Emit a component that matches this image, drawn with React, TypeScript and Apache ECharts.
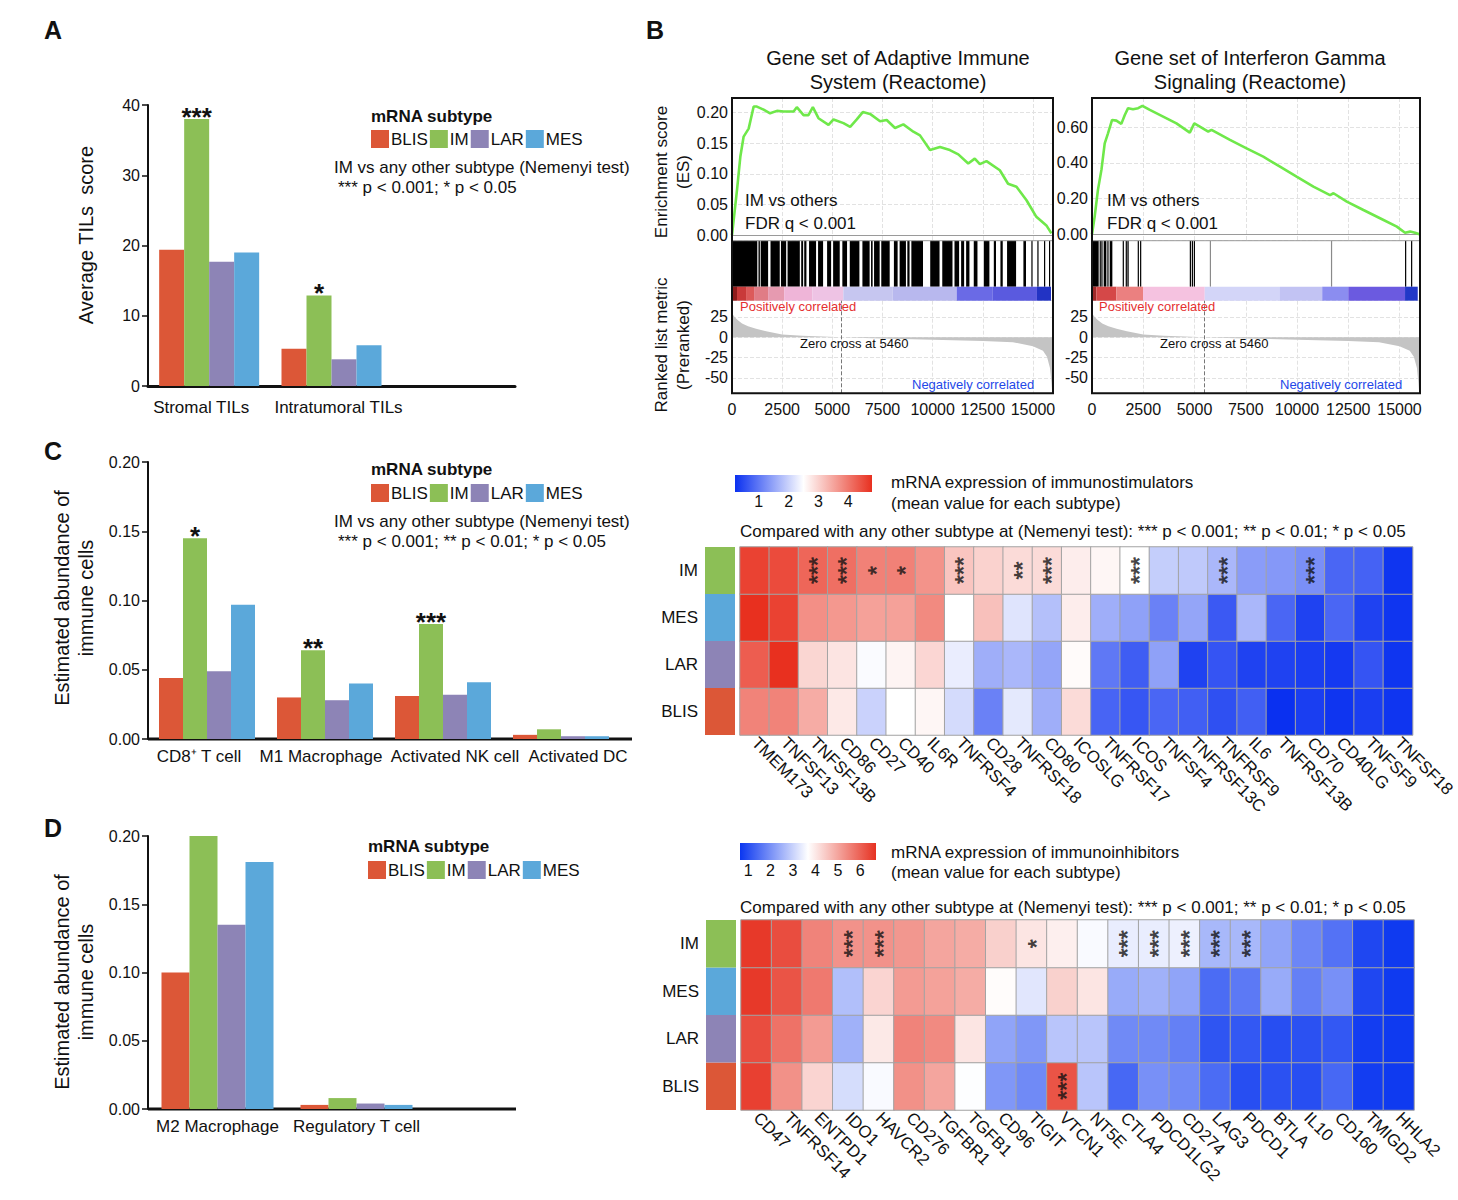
import React, { useEffect, useRef } from 'react';
import * as echarts from 'echarts';

const FONT = '"Liberation Sans", Arial, Helvetica, sans-serif';
const INK = '#111111';

const SUBTYPES = ['BLIS', 'IM', 'LAR', 'MES'];
const SUBTYPE_COLORS = ['#dc5737', '#8cbf56', '#8d84b6', '#5ba8da'];

// ---------- Panel A : TILs ----------
const tilCategories = ['Stromal TILs', 'Intratumoral TILs', ''];
const tilBLIS = [19.4, 5.3];
const tilIM = [38.0, 12.9];
const tilLAR = [17.7, 3.8];
const tilMES = [19.0, 5.8];
const tilStars = ['***', '*'];

// ---------- Panel C : immune cells ----------
const cellCatsC = ['CD8\u207A T cell', 'M1 Macrophage', 'Activated NK cell', 'Activated DC'];
const cBLIS = [0.044, 0.030, 0.031, 0.003];
const cIM = [0.145, 0.064, 0.083, 0.007];
const cLAR = [0.049, 0.028, 0.032, 0.002];
const cMES = [0.097, 0.040, 0.041, 0.002];
const cStars = ['*', '**', '***', ''];

// ---------- Panel D : immune cells ----------
const cellCatsD = ['M2 Macrophage', 'Regulatory T cell', ''];
const dBLIS = [0.100, 0.003];
const dIM = [0.208, 0.008];
const dLAR = [0.135, 0.004];
const dMES = [0.181, 0.003];
const dStars = ['', ''];

// ---------- Panel B : GSEA ----------
const esLeftRank = [0, 250, 415, 580, 830, 1080, 1240, 1575, 1900, 2240, 2570, 3070, 3230, 3565, 3810, 4030, 4310, 4810, 5060, 5555, 5890, 6220, 6520, 6880, 7380, 7710, 8125, 8540, 9040, 9370, 9870, 10365, 10860, 11280, 11775, 12100, 12355, 12685, 13350, 13760, 14180, 14680, 15170, 15670, 15920];
const esLeftValue = [0, 0.074, 0.128, 0.161, 0.174, 0.21, 0.21, 0.205, 0.199, 0.203, 0.202, 0.202, 0.209, 0.196, 0.196, 0.209, 0.191, 0.18, 0.189, 0.183, 0.177, 0.189, 0.201, 0.198, 0.186, 0.188, 0.175, 0.181, 0.169, 0.163, 0.139, 0.144, 0.139, 0.132, 0.117, 0.125, 0.116, 0.121, 0.106, 0.084, 0.079, 0.057, 0.030, 0.016, 0.003];
const esRightRank = [0, 130, 290, 460, 620, 780, 980, 1190, 1430, 1600, 1760, 2000, 2250, 2460, 2820, 3470, 4120, 4770, 4990, 5260, 5670, 5830, 6730, 7540, 8355, 9170, 9980, 10800, 11610, 11780, 12430, 13240, 14050, 14870, 15270, 15520, 15760, 15970];
const esRightValue = [0, 0.099, 0.249, 0.361, 0.51, 0.566, 0.641, 0.637, 0.619, 0.669, 0.707, 0.701, 0.707, 0.72, 0.697, 0.66, 0.622, 0.57, 0.622, 0.604, 0.576, 0.585, 0.529, 0.482, 0.435, 0.379, 0.323, 0.267, 0.22, 0.23, 0.183, 0.136, 0.09, 0.043, 0.009, 0.015, 0.009, 0];

const rankedRank = [0, 100, 250, 500, 800, 1200, 1700, 2500, 3500, 4500, 5460, 7000, 10000, 12500, 14000, 15000, 15500, 15700, 15850, 15920, 15960, 16000];
const rankedValue = [30, 26, 22, 17, 13.5, 10.5, 7.5, 3.5, 2, 1, 0, -1.2, -3, -4.5, -6, -11, -16.5, -24, -38, -55, -69, -69];
const zeroCross = 5460;

const leftHits = [[0, 1260], [1320, 1390], [1430, 1800], [1920, 2380], [2440, 2700], [2770, 3380], [3450, 3545], [3600, 3710], [3840, 4190], [4290, 4540], [4740, 4940], [5040, 5370], [5500, 5735], [5870, 6350], [6500, 6860], [6930, 7010], [7080, 7360], [7440, 7860], [8070, 8255], [8355, 8670], [8740, 8850], [8940, 9520], [9880, 10345], [10480, 10990], [11090, 11320], [11420, 11570], [11670, 11835], [12050, 12235], [12550, 12830], [13050, 13160], [13380, 13495], [13710, 14160], [14525, 14655], [14922, 14960], [15220, 15275], [15552, 15590], [15800, 15855]];
const rightHits = [[0, 326], [374, 407], [456, 505], [570, 700], [749, 798], [863, 993], [1498, 1530], [1644, 1693], [1726, 1790], [2230, 2263], [2344, 2377], [4770, 4803], [4868, 4900], [4965, 4998], [15270, 15303], [15563, 15596]];
const rightFaintHits = [[5747, 5763], [11656, 11673]];

const leftBandEdges = [0, 250, 700, 1100, 1800, 2600, 4000, 5550, 8000, 11200, 13000, 15200, 15900];
const leftBandColors = ['#8e1b1b', '#c93a3a', '#dc5a5a', '#e07c86', '#e69ab0', '#efb5d8', '#eec3e4', '#c6c6f0', '#b8b8ee', '#6a6ae6', '#5a5adf', '#2233c4'];
const rightBandEdges = [0, 210, 1190, 2490, 5500, 9170, 11230, 12500, 15270, 15890];
const rightBandColors = ['#a02828', '#d54848', '#eb8080', '#f5c2e0', '#d3d5f8', '#c2c3f3', '#8b8df0', '#6b5ae0', '#2238c8'];

// ---------- Heatmaps ----------
const HEAT_ROWS = ['BLIS', 'LAR', 'MES', 'IM'];

const stimGenes = ['TMEM173', 'TNFSF13', 'TNFSF13B', 'CD86', 'CD27', 'CD40', 'IL6R', 'TNFRSF4', 'CD28', 'TNFRSF18', 'CD80', 'ICOSLG', 'TNFRSF17', 'ICOS', 'TNFSF4', 'TNFRSF13C', 'TNFRSF9', 'IL6', 'TNFRSF13B', 'CD70', 'CD40LG', 'TNFSF9', 'TNFSF18'];
const stimIM = [4.6, 4.5, 4.2, 4.1, 3.9, 3.9, 3.7, 3.15, 3.0, 2.9, 2.9, 2.7, 2.6, 2.5, 1.95, 1.9, 1.7, 1.4, 1.35, 1.25, 0.8, 0.75, 0.25];
const stimMES = [4.8, 4.6, 3.74, 3.65, 3.55, 3.55, 3.8, 2.5, 3.2, 2.2, 1.8, 2.7, 1.6, 1.45, 1.1, 1.5, 0.66, 1.7, 0.8, 0.4, 0.8, 0.4, 0.25];
const stimLAR = [4.3, 4.8, 2.96, 2.8, 2.45, 2.62, 2.95, 2.3, 1.6, 1.7, 1.5, 2.55, 1.0, 0.7, 1.45, 0.4, 0.6, 0.4, 0.4, 0.35, 0.3, 0.6, 0.25];
const stimBLIS = [3.88, 3.88, 3.42, 2.75, 2.0, 2.5, 2.6, 2.1, 1.1, 2.25, 1.6, 2.9, 0.78, 0.62, 0.8, 0.72, 0.55, 0.72, 0.2, 0.35, 0.25, 0.35, 0.25];
const stimStarsIM = ['', '', '***', '***', '*', '*', '', '***', '', '**', '***', '', '', '***', '', '', '***', '', '', '***', '', '', ''];
const stimScaleMin = 0.2;
const stimScaleMax = 4.8;
const stimLegendTicks = [1, 2, 3, 4];

const inhGenes = ['CD47', 'TNFRSF14', 'ENTPD1', 'IDO1', 'HAVCR2', 'CD276', 'TGFBR1', 'TGFB1', 'CD96', 'TIGIT', 'VTCN1', 'NT5E', 'CTLA4', 'PDCD1LG2', 'CD274', 'LAG3', 'PDCD1', 'BTLA', 'IL10', 'CD160', 'TMIGD2', 'HHLA2'];
const inhIM = [6.6, 6.3, 5.5, 5.28, 5.28, 5.2, 5.0, 4.9, 4.37, 4.05, 3.9, 3.6, 3.4, 3.4, 3.45, 2.6, 2.6, 2.3, 1.85, 1.55, 0.9, 0.7];
const inhMES = [6.6, 6.2, 5.65, 2.7, 4.3, 5.15, 5.05, 4.9, 3.72, 3.3, 4.35, 4.05, 2.4, 2.5, 2.3, 1.45, 1.65, 2.4, 1.75, 2.0, 0.9, 0.7];
const inhLAR = [6.3, 5.75, 5.15, 2.5, 4.0, 5.5, 5.4, 4.05, 2.3, 2.1, 2.8, 2.8, 1.9, 1.9, 1.75, 1.1, 1.15, 1.0, 1.05, 1.15, 0.75, 0.7];
const inhBLIS = [6.5, 5.3, 4.3, 3.15, 3.6, 5.3, 5.0, 3.65, 2.1, 1.9, 6.2, 2.8, 1.4, 2.0, 1.9, 1.45, 1.0, 1.05, 1.0, 1.4, 0.75, 0.7];
const inhStarsIM = ['', '', '', '***', '***', '', '', '', '', '*', '', '', '***', '***', '***', '***', '***', '', '', '', '', ''];
const inhStarsBLIS = ['', '', '', '', '', '', '', '', '', '', '***', '', '', '', '', '', '', '', '', '', '', ''];
const inhScaleMin = 0.64;
const inhScaleMax = 6.7;
const inhLegendTicks = [1, 2, 3, 4, 5, 6];

const STIM_COLORS = ['#0a30f0', '#ffffff', '#e8301f'];
const INH_COLORS = ['#0a36f0', '#ffffff', '#e63222'];

function txt(x: number, y: number, text: string, o: any = {}) {
  return {
    type: 'text', x, y, silent: true, rotation: o.rotation || 0, z: 50,
    style: {
      text, fontSize: o.size || 17, fontFamily: FONT, fontWeight: o.weight || 'normal',
      fill: o.color || INK, align: o.align || 'left', verticalAlign: 'middle',
      lineHeight: o.lh || undefined,
    },
  };
}

function multipleOf(v: number, step: number) {
  return Math.abs(v / step - Math.round(v / step)) < 1e-6;
}

// horizontal nudge of a category label (px, + = right), done with asymmetric padding
function nudged(names: string[], shifts: number[]) {
  return names.map((value, i) => {
    const s = shifts[i] || 0;
    return { value, textStyle: { padding: s >= 0 ? [0, 0, 0, 2 * s] : [0, -2 * s, 0, 0] } };
  });
}

function buildOption() {
  const grids = [
    { left: 148, top: 105, width: 367, height: 281 }, // 0 A
    { left: 148, top: 462, width: 472, height: 277 }, // 1 C bar
    { left: 148, top: 836, width: 417, height: 273 }, // 2 D bar
    { left: 732, top: 98, width: 321, height: 142.7 }, // 3 L ES
    { left: 732, top: 240.7, width: 321, height: 46 }, // 4 L hits
    { left: 732, top: 286.7, width: 321, height: 14 }, // 5 L band
    { left: 732, top: 300.7, width: 321, height: 92.6 }, // 6 L ranked
    { left: 1092, top: 98, width: 328, height: 142.7 }, // 7 R ES
    { left: 1092, top: 240.7, width: 328, height: 46 }, // 8 R hits
    { left: 1092, top: 286.7, width: 328, height: 14 }, // 9 R band
    { left: 1092, top: 300.7, width: 328, height: 92.6 }, // 10 R ranked
    { left: 705, top: 547, width: 30, height: 188 }, // 11 C heat side
    { left: 740, top: 547, width: 682, height: 188 }, // 12 C heat
    { left: 706, top: 920, width: 30, height: 190 }, // 13 D heat side
    { left: 741, top: 920, width: 673, height: 190 }, // 14 D heat
  ];

  const xAxes: any[] = [];
  const yAxes: any[] = [];

  const barX = (gi: number, cats: any[], showLine: boolean, margin: number) => ({
    gridIndex: gi, type: 'category', data: cats,
    axisLine: { show: showLine, lineStyle: { color: INK, width: 3 } },
    axisTick: { show: false },
    axisLabel: { fontSize: 17, fontFamily: FONT, color: INK, margin, interval: 0 },
  });
  const barY = (gi: number, max: number, interval: number, digits: number) => ({
    gridIndex: gi, type: 'value', min: 0, max, interval,
    axisLine: { show: true, lineStyle: { color: INK, width: 2 } },
    axisTick: { show: true, length: 6, lineStyle: { color: INK, width: 1.5 } },
    axisLabel: { fontSize: 16, fontFamily: FONT, color: INK, margin: 8, formatter: (v: number) => v.toFixed(digits) },
    splitLine: { show: false },
  });

  xAxes[0] = barX(0, nudged(tilCategories, [-8, 7, 0]), true, 13); yAxes[0] = barY(0, 40, 10, 0);
  xAxes[1] = barX(1, nudged(cellCatsC, [-8, -4, 12, 17]), false, 9); yAxes[1] = barY(1, 0.2, 0.05, 2);
  xAxes[2] = barX(2, cellCatsD, false, 9); yAxes[2] = barY(2, 0.2, 0.05, 2);

  const dashed = { show: true, lineStyle: { color: '#e2e2e2', type: 'dashed', width: 1 } };
  const rankAxisHidden = (gi: number) => ({ gridIndex: gi, type: 'value', min: 0, max: 16000, show: false });
  const unitAxisHidden = (gi: number) => ({ gridIndex: gi, type: 'value', min: 0, max: 1, show: false });

  const esX = (gi: number) => ({
    gridIndex: gi, type: 'value', min: 0, max: 16000, interval: 2500,
    axisLabel: { show: false }, axisTick: { show: false },
    axisLine: { show: true, onZero: true, lineStyle: { color: '#9a9a9a', width: 1 } },
    splitLine: dashed,
  });
  const esY = (gi: number, min: number, max: number, step: number) => ({
    gridIndex: gi, type: 'value', min, max, minInterval: step, maxInterval: step,
    axisLine: { show: false }, axisTick: { show: false },
    axisLabel: { fontSize: 16, fontFamily: FONT, color: INK, margin: 4, formatter: (v: number) => (multipleOf(v, step) ? v.toFixed(2) : '') },
    splitLine: dashed,
  });
  const rankedX = (gi: number) => ({
    gridIndex: gi, type: 'value', min: 0, max: 16000, interval: 2500,
    axisLine: { show: false, onZero: false }, axisTick: { show: false },
    axisLabel: { fontSize: 16, fontFamily: FONT, color: INK, margin: 8, formatter: (v: number) => (multipleOf(v, 2500) ? String(v) : '') },
    splitLine: dashed,
  });
  const rankedY = (gi: number) => ({
    gridIndex: gi, type: 'value', min: -69, max: 45, minInterval: 25, maxInterval: 25,
    axisLine: { show: false }, axisTick: { show: false },
    axisLabel: { fontSize: 16, fontFamily: FONT, color: INK, margin: 4, formatter: (v: number) => (multipleOf(v, 25) ? String(v) : '') },
    splitLine: dashed,
  });

  xAxes[3] = esX(3); yAxes[3] = esY(3, -0.009, 0.224, 0.05);
  xAxes[4] = rankAxisHidden(4); yAxes[4] = unitAxisHidden(4);
  xAxes[5] = rankAxisHidden(5); yAxes[5] = unitAxisHidden(5);
  xAxes[6] = rankedX(6); yAxes[6] = rankedY(6);
  xAxes[7] = esX(7); yAxes[7] = esY(7, -0.036, 0.764, 0.2);
  xAxes[8] = rankAxisHidden(8); yAxes[8] = unitAxisHidden(8);
  xAxes[9] = rankAxisHidden(9); yAxes[9] = unitAxisHidden(9);
  xAxes[10] = rankedX(10); yAxes[10] = rankedY(10);

  const sideX = (gi: number) => ({ gridIndex: gi, type: 'category', data: [''], show: false });
  const sideY = (gi: number) => ({
    gridIndex: gi, type: 'category', data: HEAT_ROWS,
    axisLine: { show: false }, axisTick: { show: false },
    axisLabel: { fontSize: 17, fontFamily: FONT, color: INK, margin: 7 },
  });
  const heatX = (gi: number, genes: string[]) => ({
    gridIndex: gi, type: 'category', data: genes,
    axisLine: { show: false }, axisTick: { show: false }, splitLine: { show: false },
    axisLabel: { fontSize: 17, fontFamily: FONT, color: INK, margin: 5, rotate: -45, interval: 0 },
  });
  const heatY = (gi: number) => ({ gridIndex: gi, type: 'category', data: HEAT_ROWS, show: false });

  xAxes[11] = sideX(11); yAxes[11] = sideY(11);
  xAxes[12] = heatX(12, stimGenes); yAxes[12] = heatY(12);
  xAxes[13] = sideX(13); yAxes[13] = sideY(13);
  xAxes[14] = heatX(14, inhGenes); yAxes[14] = heatY(14);

  const series: any[] = [];

  const addBars = (gi: number, arrays: number[][], stars: string[], barWidth: number) => {
    SUBTYPES.forEach((name, i) => {
      series.push({
        type: 'bar', name, xAxisIndex: gi, yAxisIndex: gi, data: arrays[i],
        barWidth, barGap: '0%', itemStyle: { color: SUBTYPE_COLORS[i] },
        label: name === 'IM'
          ? { show: true, position: 'top', distance: -11, fontSize: 26, fontWeight: 'bold', fontFamily: FONT, color: INK, formatter: (p: any) => stars[p.dataIndex] || '' }
          : { show: false },
      });
    });
  };
  addBars(0, [tilBLIS, tilIM, tilLAR, tilMES], tilStars, 25);
  addBars(1, [cBLIS, cIM, cLAR, cMES], cStars, 24);
  addBars(2, [dBLIS, dIM, dLAR, dMES], dStars, 28);

  const rectSeries = (gi: number, data: number[][], colorOf: (d: any, i: number) => string) => ({
    type: 'custom', xAxisIndex: gi, yAxisIndex: gi, data, silent: true,
    renderItem: (params: any, api: any) => {
      const a = api.coord([api.value(0), 1]);
      const b = api.coord([api.value(1), 0]);
      return {
        type: 'rect',
        shape: { x: a[0], y: a[1], width: Math.max(1.2, b[0] - a[0]), height: b[1] - a[1] },
        style: { fill: colorOf(data[params.dataIndex], params.dataIndex) },
      };
    },
  });

  const bandData = (edges: number[]) => edges.slice(0, -1).map((e, i) => [e, edges[i + 1]]);

  const gseaSeries = (esGi: number, ranks: number[], values: number[], hits: number[][], faint: number[][], edges: number[], colors: string[]) => {
    series.push({
      type: 'line', xAxisIndex: esGi, yAxisIndex: esGi, showSymbol: false, symbol: 'none',
      data: ranks.map((r, i) => [r, values[i]]),
      lineStyle: { color: '#6fe84a', width: 2.6 }, itemStyle: { color: '#6fe84a' }, z: 5,
    });
    series.push(rectSeries(esGi + 1, hits, () => '#000000'));
    if (faint.length) series.push(rectSeries(esGi + 1, faint, () => '#8a8a8a'));
    series.push(rectSeries(esGi + 2, bandData(edges), (_d, i) => colors[i]));
    series.push({
      type: 'line', xAxisIndex: esGi + 3, yAxisIndex: esGi + 3, symbol: 'none', showSymbol: false,
      data: rankedRank.map((r, i) => [r, rankedValue[i]]),
      lineStyle: { width: 0, color: '#c2c2c2' }, areaStyle: { color: '#c4c4c4', opacity: 1 },
      markLine: {
        silent: true, symbol: 'none', label: { show: false },
        lineStyle: { type: 'dashed', color: '#777777', width: 1 },
        data: [{ xAxis: zeroCross }],
      },
    });
  };
  gseaSeries(3, esLeftRank, esLeftValue, leftHits, [], leftBandEdges, leftBandColors);
  gseaSeries(7, esRightRank, esRightValue, rightHits, rightFaintHits, rightBandEdges, rightBandColors);

  // heatmaps
  const sideSeries = (gi: number) => ({
    type: 'custom', xAxisIndex: gi, yAxisIndex: gi, silent: true,
    data: HEAT_ROWS.map((_r, i) => [0, i]),
    renderItem: (params: any, api: any) => {
      const c = api.coord([api.value(0), api.value(1)]);
      const s = api.size([1, 1]);
      const name = HEAT_ROWS[params.dataIndex];
      return {
        type: 'rect',
        shape: { x: c[0] - s[0] / 2, y: c[1] - s[1] / 2, width: s[0], height: s[1] },
        style: { fill: SUBTYPE_COLORS[SUBTYPES.indexOf(name)] },
      };
    },
  });

  const heatSeries = (gi: number, rows: number[][]) => ({
    type: 'heatmap', xAxisIndex: gi, yAxisIndex: gi, silent: true,
    data: rows.flatMap((row, r) => row.map((v, c) => [c, r, v])),
    itemStyle: { borderColor: '#a3a3a3', borderWidth: 1 },
    emphasis: { disabled: true },
  });

  const starSeries = (gi: number, starRows: { row: number; stars: string[] }[]) => {
    const data: number[][] = [];
    const texts: string[] = [];
    starRows.forEach(({ row, stars }) => {
      stars.forEach((s, c) => { if (s) { data.push([c, row]); texts.push(s); } });
    });
    return {
      type: 'scatter', xAxisIndex: gi, yAxisIndex: gi, silent: true, z: 10,
      data, symbolSize: 1, itemStyle: { color: 'rgba(0,0,0,0)' },
      label: {
        show: true, position: 'inside', rotate: 90, offset: [0, 5],
        fontSize: 23, fontWeight: 'bold', fontFamily: FONT, color: INK, formatter: (p: any) => texts[p.dataIndex],
      },
    };
  };

  series.push(sideSeries(11));
  const stimHeatIndex = series.length;
  series.push(heatSeries(12, [stimBLIS, stimLAR, stimMES, stimIM]));
  series.push(starSeries(12, [{ row: 3, stars: stimStarsIM }]));
  series.push(sideSeries(13));
  const inhHeatIndex = series.length;
  series.push(heatSeries(14, [inhBLIS, inhLAR, inhMES, inhIM]));
  series.push(starSeries(14, [{ row: 3, stars: inhStarsIM }, { row: 0, stars: inhStarsBLIS }]));

  const visualMap = [
    { type: 'continuous', show: false, seriesIndex: stimHeatIndex, dimension: 2, min: stimScaleMin, max: stimScaleMax, inRange: { color: STIM_COLORS } },
    { type: 'continuous', show: false, seriesIndex: inhHeatIndex, dimension: 2, min: inhScaleMin, max: inhScaleMax, inRange: { color: INH_COLORS } },
  ];

  const legend = (left: number, top: number) => ({
    left, top, orient: 'horizontal', itemWidth: 18, itemHeight: 18, itemGap: 2, padding: 0,
    icon: 'rect', selectedMode: false, data: SUBTYPES,
    textStyle: { fontSize: 17, fontFamily: FONT, color: INK, padding: [0, 0, 0, -3] },
  });

  const colorBar = (x: number, y: number, w: number, h: number, colors: string[], min: number, max: number, ticks: number[], labelY: number) => {
    const els: any[] = [{
      type: 'rect', silent: true, shape: { x, y, width: w, height: h },
      style: {
        fill: new echarts.graphic.LinearGradient(0, 0, 1, 0, colors.map((c, i) => ({ offset: i / (colors.length - 1), color: c }))),
      },
    }];
    ticks.forEach((t) => {
      els.push(txt(x + ((t - min) / (max - min)) * w, labelY, String(t), { align: 'center', size: 16 }));
    });
    return els;
  };

  const subtypeNote = 'IM vs any other subtype (Nemenyi test)';
  const compared = 'Compared with any other subtype at (Nemenyi test): *** p < 0.001; ** p < 0.01; * p < 0.05';

  const graphics: any[] = [
    // panel letters
    txt(44, 30, 'A', { size: 25, weight: 'bold' }),
    txt(646, 30, 'B', { size: 25, weight: 'bold' }),
    txt(44, 451, 'C', { size: 25, weight: 'bold' }),
    txt(44, 828, 'D', { size: 25, weight: 'bold' }),
    // A
    txt(371, 116, 'mRNA subtype', { weight: 'bold' }),
    txt(334, 167, subtypeNote),
    txt(338, 187, '*** p < 0.001; * p < 0.05'),
    txt(86, 235, 'Average TILs  score', { size: 20, align: 'center', rotation: Math.PI / 2 }),
    // C
    txt(371, 469, 'mRNA subtype', { weight: 'bold' }),
    txt(334, 521, subtypeNote),
    txt(338, 541, '*** p < 0.001; ** p < 0.01; * p < 0.05'),
    txt(74, 598, 'Estimated abundance of\nimmune cells', { size: 20, align: 'center', rotation: Math.PI / 2, lh: 24 }),
    { type: 'line', silent: true, shape: { x1: 148, y1: 739, x2: 632, y2: 739 }, style: { stroke: INK, lineWidth: 3 } },
    // D
    txt(368, 846, 'mRNA subtype', { weight: 'bold' }),
    txt(74, 982, 'Estimated abundance of\nimmune cells', { size: 20, align: 'center', rotation: Math.PI / 2, lh: 24 }),
    { type: 'line', silent: true, shape: { x1: 148, y1: 1109, x2: 516, y2: 1109 }, style: { stroke: INK, lineWidth: 3 } },
    // B titles
    txt(898, 58, 'Gene set of Adaptive Immune', { size: 20, align: 'center' }),
    txt(898, 82, 'System (Reactome)', { size: 20, align: 'center' }),
    txt(1250, 58, 'Gene set of Interferon Gamma', { size: 20, align: 'center' }),
    txt(1250, 82, 'Signaling (Reactome)', { size: 20, align: 'center' }),
    txt(672, 172, 'Enrichment score\n(ES)', { size: 17, align: 'center', rotation: Math.PI / 2, lh: 22 }),
    txt(672, 345, 'Ranked list metric\n(Preranked)', { size: 17, align: 'center', rotation: Math.PI / 2, lh: 22 }),
    // B left annotations
    txt(745, 200, 'IM vs others'),
    txt(745, 223, 'FDR q < 0.001'),
    txt(740, 306, 'Positively correlated', { size: 13, color: '#e53030' }),
    txt(800, 343, 'Zero cross at 5460', { size: 13 }),
    txt(912, 384, 'Negatively correlated', { size: 13, color: '#2448e8' }),
    // B right annotations
    txt(1107, 200, 'IM vs others'),
    txt(1107, 223, 'FDR q < 0.001'),
    txt(1099, 306, 'Positively correlated', { size: 13, color: '#e53030' }),
    txt(1160, 343, 'Zero cross at 5460', { size: 13 }),
    txt(1280, 384, 'Negatively correlated', { size: 13, color: '#2448e8' }),
    // frames
    { type: 'line', silent: true, z: 40, shape: { x1: 732, y1: 240.7, x2: 1053, y2: 240.7 }, style: { stroke: '#9a9a9a', lineWidth: 1 } },
    { type: 'line', silent: true, z: 40, shape: { x1: 1092, y1: 240.7, x2: 1420, y2: 240.7 }, style: { stroke: '#9a9a9a', lineWidth: 1 } },
    { type: 'rect', silent: true, z: 45, shape: { x: 732, y: 98, width: 321, height: 295.3 }, style: { fill: 'none', stroke: INK, lineWidth: 2 } },
    { type: 'rect', silent: true, z: 45, shape: { x: 1092, y: 98, width: 328, height: 295.3 }, style: { fill: 'none', stroke: INK, lineWidth: 2 } },
    // heatmap legends & texts
    ...colorBar(735, 475, 137, 17, STIM_COLORS, stimScaleMin, stimScaleMax, stimLegendTicks, 501),
    txt(891, 482, 'mRNA expression of immunostimulators'),
    txt(891, 503, '(mean value for each subtype)'),
    txt(740, 531, compared),
    ...colorBar(740, 843, 136, 17, INH_COLORS, inhScaleMin, inhScaleMax, inhLegendTicks, 870),
    txt(891, 852, 'mRNA expression of immunoinhibitors'),
    txt(891, 872, '(mean value for each subtype)'),
    txt(740, 907, compared),
  ];

  return {
    animation: false,
    backgroundColor: '#ffffff',
    textStyle: { fontFamily: FONT },
    grid: grids,
    xAxis: xAxes,
    yAxis: yAxes,
    series,
    visualMap,
    legend: [legend(371, 130), legend(371, 484), legend(368, 861)],
    graphic: { elements: graphics },
  };
}

export default function App() {
  const ref = useRef<HTMLDivElement>(null);
  useEffect(() => {
    document.body.style.margin = '0';
    const chart = echarts.init(ref.current as HTMLDivElement, null, { renderer: 'svg' });
    chart.setOption(buildOption() as any);
    return () => chart.dispose();
  }, []);
  return <div ref={ref} style={{ width: 1458, height: 1200 }} />;
}
